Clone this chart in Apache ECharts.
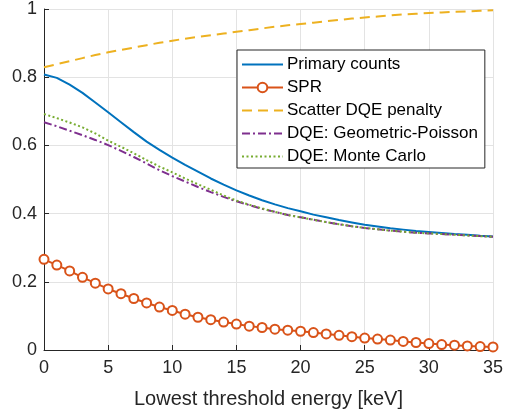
<!DOCTYPE html>
<html>
<head>
<meta charset="utf-8">
<script src="https://cdn.jsdelivr.net/npm/echarts@6/dist/echarts.min.js"></script>
<style>
  html, body { margin: 0; padding: 0; background: #fff; }
  #chart { width: 506px; height: 414px; }
</style>
</head>
<body>
<div id="chart"></div>
<script>
// threshold energy in keV
const energy = [0, 1, 2, 3, 4, 5, 6, 7, 8, 9, 10, 11, 12, 13, 14, 15, 16, 17,
  18, 19, 20, 21, 22, 23, 24, 25, 26, 27, 28, 29, 30, 31, 32, 33, 34, 35];

const primaryCounts = [0.808, 0.798, 0.778, 0.754, 0.726, 0.697, 0.668, 0.639, 0.611, 0.587,
  0.564, 0.543, 0.523, 0.503, 0.485, 0.468, 0.453, 0.439, 0.427, 0.416, 0.407, 0.397, 0.389,
  0.381, 0.374, 0.367, 0.362, 0.357, 0.353, 0.349, 0.346, 0.343, 0.340, 0.338, 0.335, 0.333];

const spr = [0.266, 0.249, 0.232, 0.213, 0.196, 0.179, 0.165, 0.151, 0.138, 0.126, 0.116,
  0.105, 0.096, 0.089, 0.082, 0.076, 0.070, 0.066, 0.061, 0.058, 0.055, 0.051, 0.047, 0.043,
  0.039, 0.035, 0.032, 0.029, 0.025, 0.022, 0.019, 0.016, 0.014, 0.012, 0.010, 0.009];

const scatterPenalty = [0.829, 0.838, 0.847, 0.856, 0.865, 0.873, 0.880, 0.887, 0.894, 0.901,
  0.907, 0.913, 0.918, 0.923, 0.928, 0.933, 0.938, 0.943, 0.948, 0.952, 0.956, 0.960, 0.964,
  0.968, 0.972, 0.975, 0.978, 0.981, 0.984, 0.986, 0.988, 0.990, 0.992, 0.993, 0.995, 0.996];

const dqeGeoPoisson = [0.668, 0.656, 0.643, 0.630, 0.616, 0.601, 0.584, 0.566, 0.547, 0.527,
  0.510, 0.494, 0.478, 0.463, 0.449, 0.436, 0.425, 0.414, 0.405, 0.396, 0.389, 0.382, 0.375,
  0.369, 0.363, 0.358, 0.354, 0.350, 0.347, 0.344, 0.342, 0.340, 0.338, 0.336, 0.334, 0.332];

const dqeMonteCarlo = [0.692, 0.680, 0.667, 0.653, 0.635, 0.614, 0.596, 0.577, 0.557, 0.538,
  0.521, 0.503, 0.486, 0.470, 0.453, 0.438, 0.426, 0.415, 0.405, 0.396, 0.389, 0.382, 0.375,
  0.369, 0.363, 0.358, 0.354, 0.350, 0.347, 0.344, 0.342, 0.340, 0.338, 0.336, 0.334, 0.332];

const xTicks = { min: 0, max: 35, interval: 5 };
const yTicks = { min: 0, max: 1, interval: 0.2 };

function pairs(vals) {
  return energy.map((e, i) => [e, vals[i]]);
}

const FONT = "Liberation Sans, Arial, Helvetica, sans-serif";
const DARK = "#262626";
// hide the marker in legend for the plain lines
const noMark = { opacity: 0 };

const chart = echarts.init(document.getElementById("chart"), null, { renderer: "canvas" });

const option = {
  animation: false,
  backgroundColor: "#fff",
  grid: { left: 44, right: 9, top: 6, bottom: 62, containLabel: false },
  legend: {
    orient: "vertical",
    left: 237,
    top: 50,
    backgroundColor: "#fff",
    borderColor: DARK,
    borderWidth: 1,
    borderRadius: 0,
    padding: [6, 7, 3, 4],
    itemWidth: 41,
    itemHeight: 12,
    itemGap: 6,
    textStyle: { fontFamily: FONT, fontSize: 17, color: "#000", padding: [0, 0, 0, -1] },
    data: [
      { name: "Primary counts", itemStyle: noMark },
      { name: "SPR" },
      { name: "Scatter DQE penalty", itemStyle: noMark },
      { name: "DQE: Geometric-Poisson", itemStyle: noMark },
      { name: "DQE: Monte Carlo", itemStyle: noMark }
    ]
  },
  xAxis: {
    type: "value",
    min: xTicks.min,
    max: xTicks.max,
    interval: xTicks.interval,
    name: "Lowest threshold energy [keV]",
    nameLocation: "middle",
    nameGap: 39,
    nameTextStyle: { fontFamily: FONT, fontSize: 20, color: DARK },
    axisLine: { show: true, onZero: false, lineStyle: { color: DARK, width: 1 } },
    axisTick: { show: true, inside: true, length: 5, lineStyle: { color: DARK } },
    axisLabel: { fontFamily: FONT, fontSize: 18, color: DARK, margin: 9 },
    splitLine: { show: true, lineStyle: { color: "#e3e3e3", width: 1 } }
  },
  yAxis: {
    type: "value",
    min: yTicks.min,
    max: yTicks.max,
    interval: yTicks.interval,
    axisLine: { show: true, onZero: false, lineStyle: { color: DARK, width: 1 } },
    axisTick: { show: true, inside: true, length: 5, lineStyle: { color: DARK } },
    axisLabel: { fontFamily: FONT, fontSize: 18, color: DARK, margin: 7 },
    splitLine: { show: true, lineStyle: { color: "#e3e3e3", width: 1 } }
  },
  series: [
    {
      name: "Primary counts",
      type: "line",
      symbol: "none",
      lineStyle: { color: "#0072BD", width: 2 },
      itemStyle: { color: "#0072BD" },
      data: pairs(primaryCounts)
    },
    {
      name: "SPR",
      type: "line",
      symbol: "circle",
      symbolSize: 9,
      showAllSymbol: true,
      lineStyle: { color: "#D95319", width: 2 },
      itemStyle: { color: "#fff", borderColor: "#D95319", borderWidth: 2 },
      data: pairs(spr)
    },
    {
      name: "Scatter DQE penalty",
      type: "line",
      symbol: "none",
      lineStyle: { color: "#EDB120", width: 2, type: [10, 6] },
      itemStyle: { color: "#EDB120" },
      data: pairs(scatterPenalty)
    },
    {
      name: "DQE: Geometric-Poisson",
      type: "line",
      symbol: "none",
      lineStyle: { color: "#7E2F8E", width: 2, type: [8, 3, 2, 3] },
      itemStyle: { color: "#7E2F8E" },
      data: pairs(dqeGeoPoisson)
    },
    {
      name: "DQE: Monte Carlo",
      type: "line",
      symbol: "none",
      lineStyle: { color: "#77AC30", width: 2, type: [2, 2.5] },
      itemStyle: { color: "#77AC30" },
      data: pairs(dqeMonteCarlo)
    }
  ]
};

chart.setOption(option);
</script>
</body>
</html>
